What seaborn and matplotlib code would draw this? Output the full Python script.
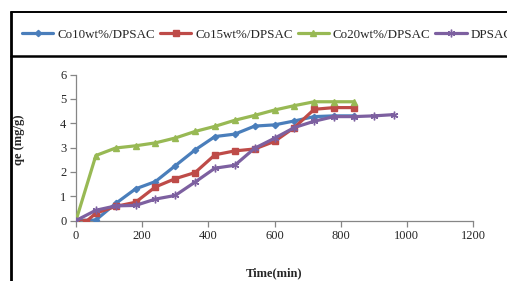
import matplotlib
matplotlib.use("Agg")
import matplotlib.pyplot as plt
from matplotlib.lines import Line2D
import seaborn as sns
import pandas as pd

sns.set_style("white")
plt.rcParams['font.family'] = ['Liberation Serif', 'DejaVu Serif']

time_a = [0, 60, 120, 180, 240, 300, 360, 420, 480, 540, 600, 660, 720, 780, 840]
co10 = [0, 0.02, 0.7, 1.3, 1.6, 2.25, 2.9, 3.45, 3.55, 3.88, 3.93, 4.09, 4.27, 4.3, 4.3]
time_b = [0, 30, 60, 120, 180, 240, 300, 360, 420, 480, 540, 600, 660, 720, 780, 840]
co15 = [0, -0.05, 0.3, 0.58, 0.75, 1.38, 1.72, 1.97, 2.7, 2.86, 2.94, 3.25, 3.82, 4.57, 4.64, 4.64]
co20 = [0, 2.67, 2.98, 3.07, 3.19, 3.39, 3.66, 3.87, 4.12, 4.32, 4.54, 4.72, 4.88, 4.88, 4.88]
time_d = [0, 60, 120, 180, 240, 300, 360, 420, 480, 540, 600, 660, 720, 780, 840, 900, 960]
dpsac = [0, 0.42, 0.6, 0.62, 0.88, 1.03, 1.58, 2.15, 2.27, 2.97, 3.38, 3.82, 4.08, 4.27, 4.27, 4.3, 4.35]

labels = ["Co10wt%/DPSAC", "Co15wt%/DPSAC", "Co20wt%/DPSAC", "DPSAC"]
colors = ["#4a7ebb", "#be4b48", "#98b954", "#7d60a0"]
markers = ["D", "s", "^", (6, 2, 0)]
msizes = [3.2, 4.2, 4.2, 5.5]

df = pd.concat([
    pd.DataFrame({"t": time_a, "q": co10, "s": labels[0]}),
    pd.DataFrame({"t": time_b, "q": co15, "s": labels[1]}),
    pd.DataFrame({"t": time_a, "q": co20, "s": labels[2]}),
    pd.DataFrame({"t": time_d, "q": dpsac, "s": labels[3]}),
])

fig = plt.figure(figsize=(5.07, 2.81), dpi=100)
ax = fig.add_axes([76/507, 1-220.5/281, (473-76)/507, (220.5-74.5)/281])

handles = []
for lab, c, m, ms in zip(labels, colors, markers, msizes):
    sub = df[df["s"] == lab]
    sns.lineplot(data=sub, x="t", y="q", ax=ax, color=c, linewidth=2.3,
                 marker=m, markersize=ms, markeredgecolor=c, markerfacecolor=c,
                 markeredgewidth=1, legend=False, zorder=3)
    handles.append(Line2D([0], [0], color=c, lw=2.3, marker=m, markersize=ms,
                          markeredgecolor=c, markerfacecolor=c))

ax.set_xlim(0, 1200)
ax.set_ylim(0, 6)
ax.set_xticks(range(0, 1201, 200))
ax.set_yticks(range(0, 7))
for sp in ["top", "right"]:
    ax.spines[sp].set_visible(False)
for sp in ["left", "bottom"]:
    ax.spines[sp].set_color("#868686")
    ax.spines[sp].set_linewidth(0.9)
ax.tick_params(axis="both", which="both", direction="out", length=4, width=0.9,
               color="#868686", labelsize=9, pad=3, left=True, bottom=True)
ax.set_xlabel("Time(min)", fontsize=9, fontweight="bold")
ax.set_ylabel("qe (mg/g)", fontsize=9, fontweight="bold")
ax.xaxis.set_label_coords(0.5, -0.318)
ax.yaxis.set_label_coords(-0.128, 0.55)

fig.legend(handles, labels, loc="center left", bbox_to_anchor=(22/507, 1-34.5/281),
           ncol=4, frameon=False, fontsize=9.4, handlelength=2.4,
           handletextpad=0.3, columnspacing=0.38, borderaxespad=0, borderpad=0)

# outer frame lines
fig.add_artist(Line2D([11.2/507, 11.2/507], [0, 1-11.5/281], transform=fig.transFigure,
                      color="black", lw=2))
fig.add_artist(Line2D([11.2/507, 1], [1-11.8/281, 1-11.8/281], transform=fig.transFigure,
                      color="black", lw=1.4))
fig.add_artist(Line2D([11.2/507, 1], [1-56.2/281, 1-56.2/281], transform=fig.transFigure,
                      color="black", lw=1.8))

fig.savefig("out.png", dpi=100)
